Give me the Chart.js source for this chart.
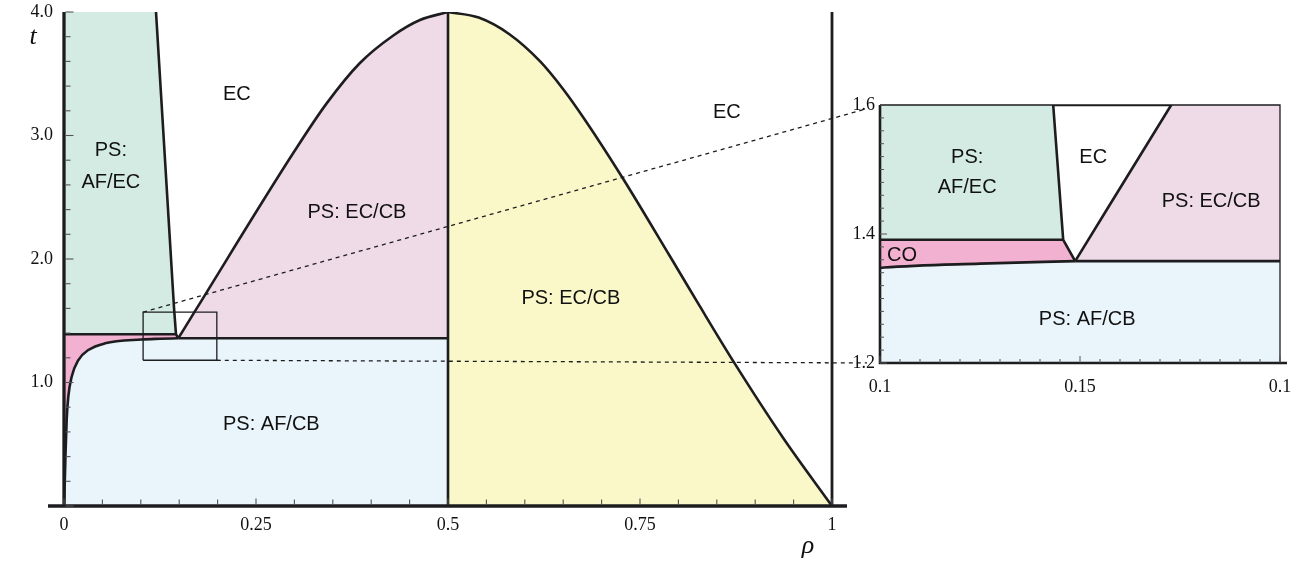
<!DOCTYPE html>
<html>
<head>
<meta charset="utf-8">
<script src="https://cdn.jsdelivr.net/npm/chart.js@4.4.1/dist/chart.umd.min.js"></script>
<style>
  html, body { margin: 0; padding: 0; background: #fff; }
  #wrap { position: relative; width: 1298px; height: 562px; overflow: hidden; }
  #main { position: absolute; left: 0; top: 0; }
  #inset { position: absolute; left: 820px; top: 80px; }
</style>
</head>
<body>
<div id="wrap">
  <canvas id="main" width="1298" height="562" style="width:1298px;height:562px"></canvas>
  <canvas id="inset" width="478" height="330" style="width:478px;height:330px"></canvas>
</div>
<script>
// phase boundaries, (rho, t)
const coRho = [0, 0.0005, 0.002, 0.0035, 0.0056, 0.010, 0.0187, 0.0317, 0.0534, 0.101, 0.125, 0.1488];
const coT   = [0, 0.08, 0.43, 0.70, 0.885, 1.047, 1.182, 1.263, 1.317, 1.348, 1.354, 1.358];

const afEcRho = [0.1198, 0.1433, 0.1458, 0.1488];
const afEcT   = [4.0, 1.6, 1.391, 1.358];

const coTopRho = [0, 0.1458];
const coTopT   = [1.391, 1.391];

const cbRho = [0.1488, 0.5];
const cbT   = [1.358, 1.358];

const domeLeftRho = [0.1488, 0.1728, 0.3008, 0.342, 0.385, 0.4288, 0.4635, 0.5];
const domeLeftT   = [1.358, 1.6, 2.88, 3.26, 3.585, 3.81, 3.935, 4.0];

const domeRightRho = [0.5, 0.54, 0.58, 0.62, 0.65, 0.678, 0.728, 0.789, 0.828, 0.872, 0.936, 1.0];
const domeRightT   = [4.0, 3.955, 3.82, 3.6, 3.375, 3.13, 2.65, 2.022, 1.616, 1.167, 0.555, 0];

const halfRho = [0.5, 0.5];
const halfT   = [0, 4];
const edgeRho = [1, 1];
const edgeT   = [0, 4];

// zoom window marked in the main panel
const boxRho = [0.103, 0.199];
const boxT   = [1.18, 1.57];

// tick labels
const mainXTicks  = [0, 0.25, 0.5, 0.75, 1];
const mainXLabels = ['0', '0.25', '0.5', '0.75', '1'];
const mainYTicks  = [1, 2, 3, 4];
const mainYLabels = ['1.0', '2.0', '3.0', '4.0'];
const insetXTicks  = [0.1, 0.15, 0.2];
const insetXLabels = ['0.1', '0.15', '0.1'];
const insetYTicks  = [1.2, 1.4, 1.6];
const insetYLabels = ['1.2', '1.4', '1.6'];

const INK = '#1d1d1f';
const GREEN = '#d4ebe3';
const PINK_LIGHT = '#efdae8';
const PINK_CO = '#f3b1d1';
const BLUE = '#e9f4fb';
const YELLOW = '#faf8c8';

const pts = (xs, ys) => xs.map((x, i) => ({ x: x, y: ys[i] }));
const smooth = { cubicInterpolationMode: 'monotone' };

function boundary(data, extra) {
  return Object.assign({ data: data, borderColor: INK, borderWidth: 2.6, pointRadius: 0, fill: false, tension: 0 }, extra || {});
}
function region(data, color, fill, extra) {
  return Object.assign({ data: data, backgroundColor: color, borderColor: 'rgba(0,0,0,0)', borderWidth: 0, pointRadius: 0, fill: fill, tension: 0 }, extra || {});
}

function phaseDatasets(extra) {
  return extra.concat([
    boundary(pts(afEcRho, afEcT)),
    boundary(pts(coTopRho, coTopT)),
    boundary(pts(coRho, coT), smooth),
    boundary(pts(cbRho, cbT)),
    boundary(pts(domeLeftRho, domeLeftT), smooth),
    boundary(pts(domeRightRho, domeRightT), smooth),
    boundary(pts(halfRho, halfT)),
    // fills: lower index is painted on top
    region(pts(coRho.concat(cbRho[1]), coT.concat(cbT[1])), BLUE, 'start', smooth),
    region(pts(coTopRho.concat(cbRho[0]), coTopT.concat(cbT[0])), PINK_CO, 'start'),
    region(pts([0].concat(afEcRho.slice(0, 3)), [afEcT[0]].concat(afEcT.slice(0, 3))), GREEN, { value: coTopT[0] }),
    region(pts(domeLeftRho, domeLeftT), PINK_LIGHT, { value: cbT[0] }, smooth),
    region(pts(domeRightRho, domeRightT), YELLOW, 'start', smooth)
  ]);
}

function labelPlugin(id, labels, lineGap) {
  return {
    id: id,
    afterDatasetsDraw(chart) {
      const { ctx, scales: { x, y } } = chart;
      ctx.save();
      ctx.fillStyle = '#111';
      ctx.font = '20px "Liberation Sans", Arial, sans-serif';
      ctx.textAlign = 'center';
      ctx.textBaseline = 'middle';
      labels.forEach(l => {
        const cx = x.getPixelForValue(l.rho), cy = y.getPixelForValue(l.t);
        l.text.forEach((s, i) => ctx.fillText(s, cx, cy + (i - (l.text.length - 1) / 2) * lineGap));
      });
      ctx.restore();
    }
  };
}

function scaleOpts(min, max, ticks, labels, pad, size, isX) {
  return {
    type: 'linear', min: min, max: max,
    grid: { display: false, drawTicks: false },
    border: { display: false },
    afterBuildTicks: s => { s.ticks = ticks.map(v => ({ value: v })); },
    afterFit: s => {
      // keep the plot frame where the layout padding puts it
      if (isX) { s.height = size; s.paddingLeft = 0; s.paddingRight = 0; }
      else { s.width = size; s.paddingTop = 0; s.paddingBottom = 0; }
    },
    ticks: {
      autoSkip: false, maxRotation: 0, padding: pad, color: '#111',
      font: { family: '"Liberation Serif", "Times New Roman", serif', size: 18 },
      callback: (v, i) => labels[i]
    }
  };
}

function tickMarks(ctx, scale, a, from, to, step, majorEvery, isX, minorLen, majorLen) {
  const n = Math.round((to - from) / step);
  for (let k = 0; k <= n; k++) {
    const v = from + k * step;
    const len = k % majorEvery === 0 ? majorLen : minorLen;
    const p = scale.getPixelForValue(v);
    ctx.beginPath();
    if (isX) { ctx.moveTo(p, a.bottom); ctx.lineTo(p, a.bottom - len); }
    else { ctx.moveTo(a.left, p); ctx.lineTo(a.left + len, p); }
    ctx.stroke();
  }
}

const insetLabels = [
  { text: ['PS:', 'AF/EC'], rho: 0.1218, t: 1.496 },
  { text: ['EC'], rho: 0.1533, t: 1.519 },
  { text: ['PS: EC/CB'], rho: 0.1828, t: 1.451 },
  { text: ['CO'], rho: 0.1055, t: 1.366 },
  { text: ['PS: AF/CB'], rho: 0.1518, t: 1.268 }
];
const mainLabels = [
  { text: ['PS:', 'AF/EC'], rho: 0.061, t: 2.753 },
  { text: ['EC'], rho: 0.225, t: 3.33 },
  { text: ['PS: EC/CB'], rho: 0.3815, t: 2.38 },
  { text: ['PS: EC/CB'], rho: 0.66, t: 1.68 },
  { text: ['EC'], rho: 0.863, t: 3.19 },
  { text: ['PS: AF/CB'], rho: 0.27, t: 0.664 }
];

const insetFrame = {
  id: 'insetFrame',
  beforeDraw(chart) {
    const { ctx, chartArea: a } = chart;
    ctx.save();
    ctx.fillStyle = '#fff';
    ctx.fillRect(a.left, a.top, a.right - a.left, a.bottom - a.top);
    ctx.restore();
  },
  afterDraw(chart) {
    const { ctx, chartArea: a, scales: { x, y } } = chart;
    ctx.save();
    ctx.strokeStyle = INK;
    ctx.lineWidth = 1.3;
    ctx.beginPath();
    ctx.moveTo(a.left, a.top); ctx.lineTo(a.right, a.top); ctx.lineTo(a.right, a.bottom);
    ctx.stroke();
    ctx.lineWidth = 2.6;
    ctx.beginPath();
    ctx.moveTo(a.left, a.top); ctx.lineTo(a.left, a.bottom); ctx.lineTo(a.right + 7, a.bottom);
    ctx.stroke();
    ctx.strokeStyle = '#555';
    ctx.lineWidth = 1;
    tickMarks(ctx, x, a, 0.1, 0.2, 0.005, 10, true, 4, 7);
    tickMarks(ctx, y, a, 1.2, 1.6, 0.02, 10, false, 4, 7);
    ctx.restore();
  }
};

const insetChart = new Chart(document.getElementById('inset'), {
  type: 'line',
  data: {
    datasets: phaseDatasets([
      boundary(pts([afEcRho[1], domeLeftRho[1]], [afEcT[1], domeLeftT[1]]))
    ])
  },
  options: {
    responsive: false, animation: false, events: [],
    layout: { padding: { left: 0, top: 25, right: 18, bottom: 0 } },
    plugins: { legend: { display: false }, tooltip: { enabled: false }, filler: { drawTime: 'beforeDatasetsDraw' } },
    scales: {
      x: scaleOpts(0.1, 0.2, insetXTicks, insetXLabels, 13, 47, true),
      y: scaleOpts(1.2, 1.6, insetYTicks, insetYLabels, 5, 60, false)
    }
  },
  plugins: [insetFrame, labelPlugin('insetLabels', insetLabels, 30)]
});

const mainDecor = {
  id: 'mainDecor',
  afterDraw(chart) {
    const { ctx, chartArea: a, scales: { x, y } } = chart;
    ctx.save();
    // axis lines, the rho axis runs a bit past the frame
    ctx.strokeStyle = INK;
    ctx.lineWidth = 3.3;
    ctx.beginPath(); ctx.moveTo(a.left - 16, a.bottom); ctx.lineTo(a.right + 15, a.bottom); ctx.stroke();
    ctx.beginPath(); ctx.moveTo(a.left, a.top); ctx.lineTo(a.left, a.bottom); ctx.stroke();
    ctx.strokeStyle = '#555';
    ctx.lineWidth = 1.1;
    tickMarks(ctx, x, { left: a.left, bottom: a.bottom - 1.5 }, 0, 1, 0.05, 5, true, 5, 6);
    tickMarks(ctx, y, { left: a.left + 1.5, bottom: a.bottom }, 0, 4, 0.2, 5, false, 5, 8);

    // axis titles
    ctx.fillStyle = '#111';
    ctx.font = 'italic 26px "Liberation Serif", "Times New Roman", serif';
    ctx.textAlign = 'center';
    ctx.textBaseline = 'middle';
    ctx.fillText('t', a.left - 31, a.top + 25);
    ctx.fillText('\u03C1', a.right - 24, a.bottom + 40);

    // dashed connectors from the zoom window to the inset corners
    const ins = insetChart.canvas;
    const ix = insetChart.scales.x.getPixelForValue(insetXTicks[0]) + ins.offsetLeft;
    const iyTop = insetChart.scales.y.getPixelForValue(insetYTicks[2]) + ins.offsetTop;
    const iyBot = insetChart.scales.y.getPixelForValue(insetYTicks[0]) + ins.offsetTop;
    const links = [
      [x.getPixelForValue(boxRho[0]), y.getPixelForValue(boxT[1]), ix, iyTop],
      [x.getPixelForValue(boxRho[1]), y.getPixelForValue(boxT[0]), ix, iyBot]
    ];
    ctx.strokeStyle = INK;
    ctx.lineWidth = 1.3;
    ctx.setLineDash([4, 4]);
    links.forEach(([x0, y0, x1, y1]) => {
      const f = (x1 - 13 - x0) / (x1 - x0);
      ctx.beginPath();
      ctx.moveTo(x0, y0);
      ctx.lineTo(x0 + (x1 - x0) * f, y0 + (y1 - y0) * f);
      ctx.stroke();
    });
    ctx.restore();
  }
};

const mainChart = new Chart(document.getElementById('main'), {
  type: 'line',
  data: {
    datasets: phaseDatasets([
      boundary(pts([boxRho[0], boxRho[1], boxRho[1], boxRho[0], boxRho[0]], [boxT[0], boxT[0], boxT[1], boxT[1], boxT[0]]), { borderWidth: 1.3 }),
      boundary(pts(edgeRho, edgeT), { clip: false, borderWidth: 2.8 })
    ])
  },
  options: {
    responsive: false, animation: false, events: [],
    layout: { padding: { left: 0, top: 12, right: 466, bottom: 0 } },
    plugins: { legend: { display: false }, tooltip: { enabled: false }, filler: { drawTime: 'beforeDatasetsDraw' } },
    scales: {
      x: scaleOpts(0, 1, mainXTicks, mainXLabels, 8, 56, true),
      y: scaleOpts(0, 4, mainYTicks, mainYLabels, 11, 64, false)
    }
  },
  plugins: [mainDecor, labelPlugin('mainLabels', mainLabels, 32)]
});
</script>
</body>
</html>
